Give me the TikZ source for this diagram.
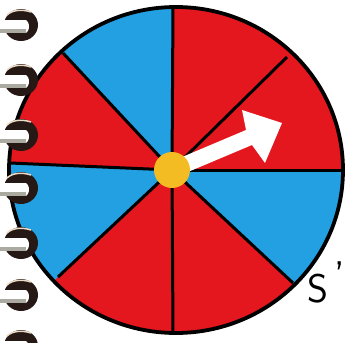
\documentclass[tikz,border=0pt]{standalone}
\usetikzlibrary{calc}
\definecolor{wheelred}{RGB}{228,22,30}
\definecolor{wheelblue}{RGB}{34,160,225}
\definecolor{hubyellow}{RGB}{242,188,34}
\definecolor{holedark}{RGB}{38,24,20}
\definecolor{wiregray}{RGB}{170,170,160}
\begin{document}
\begin{tikzpicture}[x=1pt,y=-1pt,
  spoke/.style={line width=3pt,black},
  rim/.style={line width=3.8pt,black},
  redsector/.style={fill=wheelred},
  bluesector/.style={fill=wheelblue},
  pointer/.style={fill=white},
  hubdot/.style={fill=hubyellow},
  hole/.style={fill=holedark},
  wire/.style={fill=white},
  wireshade/.style={fill=wiregray},
  hand/.style={font=\sffamily\fontsize{40}{40}\selectfont, inner sep=0pt}]
\useasboundingbox (0,0) rectangle (346,343);
\fill[white] (0,0) rectangle (346,343);
% centre and spoke ends
\coordinate (hub) at (172,170);
\coordinate (c) at (176,170);
\coordinate (eT) at (173,7);
\coordinate (eUR) at (287,57);
\coordinate (eR) at (343,170);
\coordinate (eLR) at (293,283);
\coordinate (eB) at (173,333);
\coordinate (eLL) at (58,277);
\coordinate (eL) at (10,163);
\coordinate (eUL) at (63,53);
% sectors
\begin{scope}
\clip (c) ellipse [x radius=167, y radius=163];
\fill[redsector] (c) ellipse [x radius=167, y radius=163];
\fill[bluesector] (hub) -- ($(hub)!1.5!(eT)$) -- ($(hub)!1.5!(eUL)$) -- cycle;
\fill[bluesector] (hub) -- ($(hub)!1.5!(eL)$) -- ($(hub)!1.5!(eLL)$) -- cycle;
\fill[bluesector] (hub) -- ($(hub)!1.5!(eR)$) -- ($(hub)!1.5!(eLR)$) -- cycle;
\end{scope}
% spokes
\foreach \e in {eT,eUR,eR,eLR,eB,eLL,eL,eUL} {\draw[spoke] (hub) -- (\e);}
% rim
\draw[rim] (c) ellipse [x radius=167, y radius=163];
% pointer arrow
\fill[pointer] (168.9,162.6) -- (246,130) -- (242,110) -- (282,123) -- (265,163)
  -- (252,145) -- (175.1,177.4) -- cycle;
% hub
\fill[hubdot] (hub) circle [radius=18];
% spiral binding
\foreach \y in {25,80,135,188,243,295,346} {
  \fill[hole] (21,\y) ellipse [x radius=17, y radius=16];
  \fill[wire] (0,\y-5) rectangle (25,\y+8);
  \fill[wire] (25,\y+1.5) ellipse [x radius=4, y radius=6.5];
  \fill[wireshade] (0,\y+4) rectangle (26,\y+8);
  \draw[white!70!brown, line width=1.5pt] (7,\y-10) .. controls (12,\y-15) and (22,\y-16) .. (31,\y-13);
}
% handwriting at lower right
\node[hand] (s) at (318,289) {S};
\node[hand, anchor=north east] (q) at (345,262) {’};
\end{tikzpicture}
\end{document}
